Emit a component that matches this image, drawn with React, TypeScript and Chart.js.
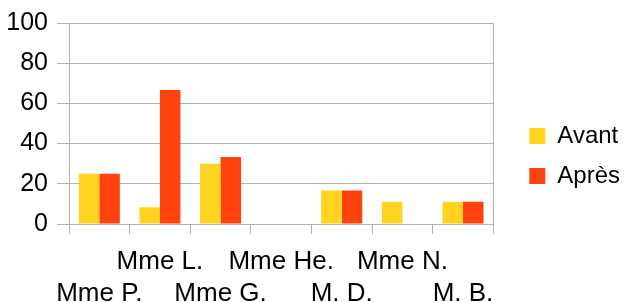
import React, { useEffect, useRef } from "react";
import { Chart, registerables } from "chart.js";

Chart.register(...registerables);

const categories = ["Mme P.", "Mme L.", "Mme G.", "Mme He.", "M. D.", "Mme N.", "M. B."];
const avantValues = [25, 8.3, 30, 0, 16.7, 11.1, 11.1];
const apresValues = [25, 66.7, 33.3, 0, 16.7, 0, 11.1];
const seriesNames = ["Avant", "Après"];
const yMin = 0;
const yMax = 100;
const yStep = 20;

const FONT = "'Liberation Sans', Arial, sans-serif";
const GRID = "#b3b3b3";
const SHIFT = 200;

export default function App() {
  const ref = useRef<HTMLCanvasElement | null>(null);

  useEffect(() => {
    if (!ref.current) return;
    const chart = new Chart(ref.current, {
      type: "bar",
      data: {
        labels: categories,
        datasets: [
          { label: seriesNames[0], data: avantValues, backgroundColor: "#ffd320", borderWidth: 0 },
          { label: seriesNames[1], data: apresValues, backgroundColor: "#ff420e", borderWidth: 0 },
        ],
      },
      options: {
        responsive: false,
        animation: false,
        devicePixelRatio: 1,
        layout: { padding: { top: 10, left: 0, right: 170, bottom: 0 } },
        datasets: { bar: { categoryPercentage: 0.677, barPercentage: 1 } },
        plugins: {
          tooltip: { enabled: false },
          legend: {
            position: "right",
            labels: {
              boxWidth: 16,
              boxHeight: 16,
              padding: 16,
              color: "#000",
              font: { family: FONT, size: 24 },
            },
          },
        },
        scales: {
          x: {
            offset: true,
            grid: {
              offset: true,
              drawOnChartArea: false,
              drawTicks: true,
              tickLength: 10,
              color: GRID,
            },
            border: { display: true, color: GRID },
            ticks: {
              autoSkip: false,
              maxRotation: 0,
              minRotation: 0,
              padding: 12,
              color: "#000",
              font: { family: FONT, size: 26, lineHeight: 1.22 },
              callback: (_v: any, i: number) => (i % 2 === 1 ? [categories[i]] : ["", categories[i]]),
            },
            afterFit: (s: any) => {
              s.height = 78;
            },
          },
          y: {
            min: yMin,
            max: yMax,
            grid: { color: GRID, tickLength: 12, drawTicks: true },
            border: { display: true, color: GRID },
            ticks: {
              stepSize: yStep,
              padding: 9,
              color: "#000",
              font: { family: FONT, size: 25 },
            },
            afterFit: (s: any) => {
              s.width = 69 + SHIFT;
              s.paddingTop = 23;
            },
          },
          y2: {
            position: "right",
            min: yMin,
            max: yMax,
            grid: { drawOnChartArea: false, drawTicks: false },
            border: { display: true, color: GRID },
            ticks: { display: false },
            afterFit: (s: any) => {
              s.width = 20;
            },
          },
        },
      },
    });
    return () => chart.destroy();
  }, []);

  return (
    <div style={{ position: "fixed", left: 0, top: 0, width: 624, height: 302, overflow: "hidden", background: "#fff" }}>
      <canvas
        ref={ref}
        width={1000}
        height={302}
        style={{ display: "block", position: "absolute", left: -SHIFT, top: 0 }}
      />
    </div>
  );
}
